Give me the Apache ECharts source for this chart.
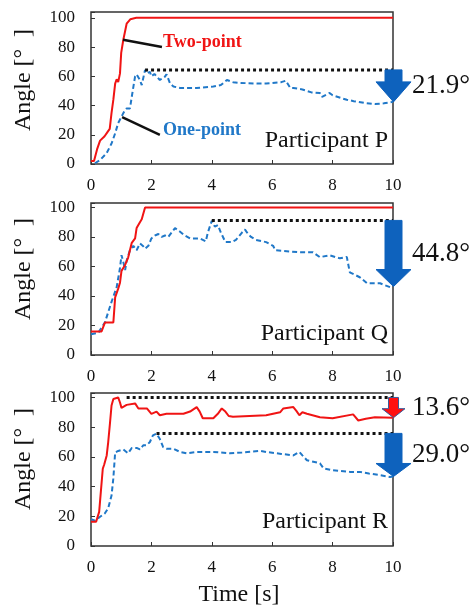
<!DOCTYPE html>
<html>
<head>
<meta charset="utf-8">
<script src="https://cdn.jsdelivr.net/npm/echarts@6/dist/echarts.min.js"></script>
<style>
  html, body { margin: 0; padding: 0; background: #fff; }
  #chart { width: 469px; height: 608px; }
</style>
</head>
<body>
<div id="chart"></div>
<script>
// time ticks
const timeTicks = [0, 2, 4, 6, 8, 10];

// Participant P
const pTwoT = [0, 0.1, 0.2, 0.3, 0.45, 0.55, 0.62, 0.68, 0.74, 0.8, 0.85, 0.9, 0.96, 1.0, 1.07, 1.12, 1.18, 1.3, 1.5, 10];
const pTwoV = [2, 2, 10, 16, 19, 22, 24, 35, 44, 55, 58, 56, 62, 76, 85, 90, 96, 99, 100, 100];
const pOneT = [0.13, 0.3, 0.52, 0.68, 0.8, 0.9, 1.0, 1.1, 1.18, 1.29, 1.35, 1.46, 1.51, 1.62, 1.68, 1.79, 1.84, 1.95, 2.0, 2.1, 2.28, 2.45, 2.5, 2.62, 2.73, 2.95, 3.5, 4.05, 4.3, 4.5, 4.7, 4.93, 5.5, 5.8, 6.3, 6.45, 6.6, 6.7, 7.0, 7.3, 7.58, 7.65, 7.9, 8.0, 8.3, 8.47, 8.7, 9.1, 9.4, 9.7, 10];
const pOneV = [0.5, 2.7, 7.5, 14, 21, 28, 32, 36, 38, 38, 46, 60, 61.4, 57.5, 54, 64.4, 62, 63, 60, 61.6, 57.5, 59.8, 61.4, 55, 53, 52, 52, 53, 54, 57.5, 56, 55.5, 55, 55, 56, 57, 52, 52, 51, 49, 48.5, 46, 48.6, 47, 45, 44, 43, 41.6, 41, 41.5, 42.5];

// Participant Q
const qTwoT = [0, 0.35, 0.46, 0.74, 0.8, 0.9, 0.96, 1.01, 1.13, 1.23, 1.35, 1.46, 1.51, 1.62, 1.68, 1.79, 10];
const qTwoV = [16, 16, 22, 22, 39, 45, 49, 57, 61, 66, 76, 79, 86, 90, 92, 100, 100];
const qOneT = [0, 0.24, 0.46, 0.68, 0.85, 0.96, 1.01, 1.07, 1.13, 1.18, 1.29, 1.4, 1.51, 1.62, 1.73, 1.79, 1.9, 2.0, 2.12, 2.23, 2.34, 2.45, 2.56, 2.67, 2.78, 2.95, 3.1, 3.28, 3.6, 3.8, 3.87, 4.0, 4.1, 4.2, 4.3, 4.45, 4.67, 4.8, 5.0, 5.1, 5.2, 5.3, 5.46, 5.8, 6.03, 6.1, 6.9, 7.35, 7.58, 7.9, 8.24, 8.47, 8.57, 8.9, 9.14, 9.57, 9.9, 10];
const qOneV = [14, 15, 22, 36, 46, 59, 67.6, 63, 57.5, 64, 71, 74, 71, 75.6, 73.7, 72, 74, 79, 81, 82, 80, 81, 80, 83, 86, 83.5, 81, 79, 79, 77, 83, 91, 87, 88, 83, 76.5, 76.5, 78, 83, 85, 82, 80, 78, 76.5, 74, 71, 69.6, 69.6, 66.3, 67.6, 65.5, 66.5, 56, 52.7, 48.6, 48.6, 46, 46.4];

// Participant R
const rTwoT = [0, 0.17, 0.27, 0.39, 0.44, 0.52, 0.57, 0.63, 0.68, 0.74, 0.9, 0.96, 1.01, 1.18, 1.46, 1.57, 1.85, 2.0, 2.17, 2.28, 2.5, 3.06, 3.28, 3.5, 3.6, 3.7, 4.05, 4.2, 4.33, 4.45, 4.56, 4.7, 5.8, 6.26, 6.37, 6.7, 6.8, 6.9, 7.0, 7.15, 7.58, 8.0, 8.68, 8.85, 9.1, 9.4, 10];
const rTwoV = [16.3, 16.3, 23, 52, 55, 61, 70, 83, 94.6, 99, 100, 96.6, 93, 95, 96, 92.6, 92.6, 89, 90.5, 88, 89, 89, 90.5, 93.5, 90.5, 86, 86, 89, 92.6, 90.5, 87.5, 87, 88, 90, 92.6, 93.5, 91, 88, 90, 89, 86.7, 86, 88.6, 84.5, 85.7, 86.7, 86.4];
const rOneT = [0, 0.14, 0.3, 0.46, 0.57, 0.68, 0.74, 0.8, 0.9, 1.07, 1.23, 1.35, 1.51, 1.62, 1.73, 1.84, 1.95, 2.05, 2.17, 2.28, 2.39, 2.5, 2.73, 2.95, 3.17, 3.5, 4.05, 4.6, 5.0, 5.6, 5.8, 6.3, 6.7, 6.9, 7.0, 7.15, 7.58, 7.7, 8.0, 8.57, 8.9, 9.2, 9.57, 9.9, 10];
const rOneV = [18, 17, 19.7, 22, 25.5, 34, 45.6, 63, 64, 65, 62.4, 66, 66, 65, 67.8, 67.8, 70, 74.5, 75.6, 72, 66.6, 65.5, 65.5, 63.3, 62.4, 63.3, 63.3, 62.4, 63, 64, 63.3, 62, 61, 63.3, 61, 57.7, 55.7, 52.3, 51, 49.9, 49.9, 48.8, 47.7, 46.5, 46.8];

// peak reference lines: start time, level
const pPeakStart = [1.79], pPeakLevel = [64.4];
const qPeakStart = [4.0], qPeakLevel = [91.2];
const rPeakStart = [1.18, 2.17], rPeakLevel = [100, 75.8];

// drops (end values and labels)
const pDropEnd = [42.5], pDrop = ["21.9"];
const qDropEnd = [46.4], qDrop = ["44.8"];
const rDropEnd = [86.4, 46.8], rDrop = ["13.6", "29.0"];

const participants = ["Participant P", "Participant Q", "Participant R"];

const RED = "#f01414";
const BLUE = "#2078c8";
const ARROW_BLUE = "#0e62bd";
const SERIF = "'Liberation Serif', 'DejaVu Serif', serif";

const zip = (t, v) => t.map((x, i) => [x, v[i]]);

const grids = [
  { left: 91, width: 302, top: 12, height: 152 },
  { left: 91, width: 302, top: 203, height: 152 },
  { left: 91, width: 302, top: 393, height: 153 },
];
const yMax = [104, 103, 103];

const chart = echarts.init(document.getElementById("chart"));

const xAxes = grids.map((g, i) => ({
  type: "value",
  gridIndex: i,
  min: timeTicks[0],
  max: timeTicks[timeTicks.length - 1],
  interval: 2,
  axisLine: { show: false },
  axisTick: { show: true, inside: true, length: 4, lineStyle: { color: "#333", width: 1 } },
  splitLine: { show: false },
  axisLabel: { color: "#111", fontFamily: SERIF, fontSize: 17, margin: 13 },
}));

const yAxes = grids.map((g, i) => ({
  type: "value",
  gridIndex: i,
  min: 0,
  max: yMax[i],
  interval: 20,
  axisLine: { show: false },
  axisTick: { show: true, inside: true, length: 4, lineStyle: { color: "#333", width: 1 } },
  splitLine: { show: false },
  axisLabel: {
    color: "#111", fontFamily: SERIF, fontSize: 17, margin: 16,
    formatter: (v) => (v % 20 === 0 ? String(v) : ""),
  },
}));

function curve(idx, t, v, two) {
  return {
    type: "line",
    xAxisIndex: idx, yAxisIndex: idx,
    data: zip(t, v),
    showSymbol: false,
    z: two ? 3 : 2,
    lineStyle: two ? { color: RED, width: 2 } : { color: BLUE, width: 2, type: [5, 3] },
  };
}

function peakLines(idx, starts, levels) {
  return starts.map((s, i) => ({
    type: "line",
    xAxisIndex: idx, yAxisIndex: idx,
    data: [[s, levels[i]], [10, levels[i]]],
    showSymbol: false,
    z: 4,
    lineStyle: { color: "#111", width: 3, type: [3, 3] },
  }));
}

// arrow styles per drop: [shaft half-width, head half-width, head length, fill, stroke]
function arrowSeries(idx, levels, ends, labels, styles) {
  return {
    type: "custom",
    xAxisIndex: idx, yAxisIndex: idx,
    clip: false,
    z: 6,
    data: levels.map((l, i) => [10, l, ends[i], i]),
    renderItem: (params, api) => {
      const top = api.coord([api.value(0), api.value(1)]);
      const tip = api.coord([api.value(0), api.value(2)]);
      const k = api.value(3);
      const [sw, hw, hl, fill, stroke] = styles[k];
      const x = tip[0] + 0.5;
      const base = tip[1] - hl;
      return {
        type: "group",
        children: [
          {
            type: "polygon",
            shape: {
              points: [
                [x - sw, top[1]], [x + sw, top[1]], [x + sw, base],
                [x + hw, base], [x, tip[1]], [x - hw, base], [x - sw, base],
              ],
            },
            style: { fill: fill, stroke: stroke, lineWidth: 1 },
          },
          {
            type: "text",
            style: {
              text: labels[k] + "°",
              x: tip[0] + 19,
              y: (top[1] + tip[1]) / 2,
              verticalAlign: "middle",
              fill: "#111",
              font: "27px " + SERIF,
            },
          },
        ],
      };
    },
  };
}

function leader(idx, pts) {
  return {
    type: "line",
    xAxisIndex: idx, yAxisIndex: idx,
    data: pts,
    showSymbol: false,
    z: 5,
    lineStyle: { color: "#111", width: 2.5 },
  };
}

const blueArrow = (hl) => [8.5, 17.5, hl, ARROW_BLUE, ARROW_BLUE];

const series = [
  curve(0, pOneT, pOneV, false),
  curve(0, pTwoT, pTwoV, true),
  ...peakLines(0, pPeakStart, pPeakLevel),
  arrowSeries(0, pPeakLevel, pDropEnd, pDrop, [blueArrow(20)]),
  leader(0, [[1.06, 85], [2.35, 80]]),
  leader(0, [[1.03, 32], [2.28, 20]]),

  curve(1, qOneT, qOneV, false),
  curve(1, qTwoT, qTwoV, true),
  ...peakLines(1, qPeakStart, qPeakLevel),
  arrowSeries(1, qPeakLevel, qDropEnd, qDrop, [blueArrow(17)]),

  curve(2, rOneT, rOneV, false),
  curve(2, rTwoT, rTwoV, true),
  ...peakLines(2, rPeakStart, rPeakLevel),
  arrowSeries(2, rPeakLevel, rDropEnd, rDrop, [[5, 11.5, 9, "#ff1010", "#3a5a9a"], blueArrow(13)]),
];

const graphic = [];
const labelY = [142, 335, 523];
participants.forEach((p, i) => {
  graphic.push({
    type: "text", right: 469 - 388, top: labelY[i] - 13,
    style: { text: p, fill: "#111", font: "24px " + SERIF },
  });
});
const angleY = [80, 269, 459];
angleY.forEach((cy) => {
  graphic.push({
    type: "text", x: 24, y: cy, rotation: Math.PI / 2,
    style: { text: "Angle [°  ]", fill: "#111", font: "24px " + SERIF, align: "center", verticalAlign: "middle" },
  });
});
graphic.push({
  type: "text", x: 239, y: 595,
  style: { text: "Time [s]", fill: "#111", font: "24px " + SERIF, align: "center", verticalAlign: "middle" },
});
graphic.push({
  type: "text", x: 163, y: 42,
  style: { text: "Two-point", fill: RED, font: "bold 18px " + SERIF, verticalAlign: "middle" },
});
graphic.push({
  type: "text", x: 163, y: 130,
  style: { text: "One-point", fill: BLUE, font: "bold 18px " + SERIF, verticalAlign: "middle" },
});

chart.setOption({
  animation: false,
  backgroundColor: "#fff",
  grid: grids.map((g) => ({ ...g, show: true, borderColor: "#333", borderWidth: 1.5, backgroundColor: "transparent" })),
  xAxis: xAxes,
  yAxis: yAxes,
  series: series,
  graphic: graphic,
});
</script>
</body>
</html>
